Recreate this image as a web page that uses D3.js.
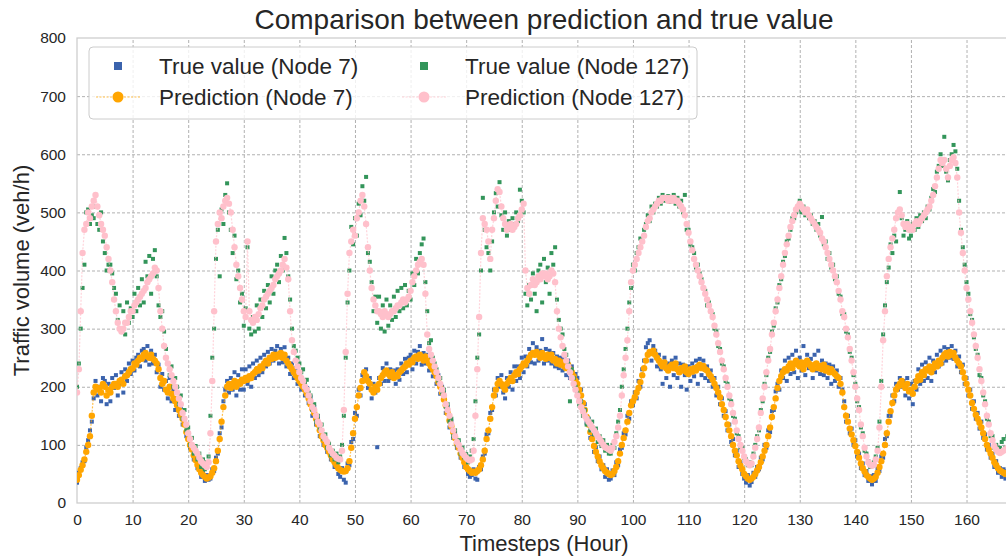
<!DOCTYPE html>
<html>
<head>
<meta charset="utf-8">
<script src="https://cdn.jsdelivr.net/npm/d3@7"></script>
<style>
  body { margin: 0; background: #fff; }
  svg { display: block; }
  text { font-family: "Liberation Sans", Arial, sans-serif; fill: #262626; }
</style>
</head>
<body>
<svg id="chart" width="1006" height="558"></svg>
<script>
// Axis ticks
const xTicks = [0, 10, 20, 30, 40, 50, 60, 70, 80, 90, 100, 110, 120, 130, 140, 150, 160];
const yTicks = [0, 100, 200, 300, 400, 500, 600, 700, 800];

// Readings are taken every 20 minutes (3 per hour) over one week
const samplesPerHour = 3;

// Node 7: measured traffic volume (veh/h)
const trueNode7 = [
  35,52,60,70,72,95,108,125,140,180,210,185,200,175,215,210,170,205,
  175,215,198,220,185,205,225,190,230,210,240,222,245,228,250,255,235,262,
  265,245,270,238,262,240,255,225,238,200,222,195,210,180,215,175,195,160,
  180,150,165,135,145,115,120,95,100,75,80,60,65,45,55,38,48,40,
  42,58,55,78,85,120,130,175,195,210,190,215,195,225,185,220,195,230,
  195,230,205,235,200,240,215,245,220,250,225,255,235,260,240,265,245,262,
  270,240,265,242,268,235,250,222,240,215,232,205,220,195,210,185,198,172,
  182,150,165,135,145,115,125,100,108,88,95,75,82,62,70,50,45,60,
  40,35,68,65,105,110,155,150,195,185,220,215,230,198,215,180,205,190,
  96,215,205,232,210,240,210,230,215,228,205,230,212,240,222,248,225,250,
  255,230,262,240,260,270,238,258,240,255,228,248,218,235,205,220,188,200,
  190,155,165,130,140,112,120,95,102,78,85,62,70,50,45,48,58,42,
  40,62,58,80,85,118,120,155,160,195,185,215,200,220,190,180,215,200,
  225,195,235,210,235,215,250,225,252,235,265,242,275,240,268,245,262,282,
  240,265,245,262,240,258,235,252,232,250,228,248,220,245,215,235,205,222,
  215,180,195,160,170,138,145,112,118,88,95,72,80,58,65,45,58,40,
  42,56,48,70,65,92,95,120,118,150,145,175,168,190,180,210,200,230,
  245,268,275,280,245,270,262,235,255,230,205,250,215,240,200,245,220,250,
  215,240,200,238,220,195,235,210,240,218,245,205,248,220,245,215,235,210,
  228,200,215,185,200,170,180,150,158,125,135,105,110,82,90,62,70,50,
  42,35,48,30,36,52,45,62,58,78,75,100,95,125,122,158,160,192,
  205,195,228,215,245,210,250,222,255,225,262,215,250,228,270,220,255,232,
  248,215,255,228,262,222,245,220,240,215,238,205,235,210,228,200,215,195,
  175,140,150,120,128,100,108,80,85,60,68,48,55,38,46,32,48,38,
  60,55,80,78,110,115,150,150,185,175,205,195,215,200,210,185,215,180,
  205,170,210,195,230,205,238,210,242,215,250,210,245,225,255,235,262,240,
  268,245,265,250,270,248,262,235,252,225,238,205,215,185,195,162,175,145,
  155,128,140,112,118,92,100,78,85,62,72,52,60,45,58,42,55,40
];

// Node 7: model prediction
const predNode7 = [
  40,48,57,65,75,88,100,115,150,190,200,195,198,190,205,200,185,195,
  190,200,205,205,200,210,212,205,218,220,225,230,232,240,238,245,250,248,
  255,258,252,250,255,248,245,240,230,215,205,210,195,190,200,188,180,175,
  168,160,152,145,135,122,110,100,92,82,74,66,58,52,48,45,42,44,
  46,52,60,72,90,110,140,165,185,200,205,198,205,210,200,208,205,212,
  210,215,212,218,215,222,225,230,228,235,232,240,245,240,250,248,255,250,
  255,252,258,250,255,245,240,235,230,225,220,215,210,205,200,195,188,180,
  170,162,155,145,135,125,115,108,100,95,88,82,75,70,65,60,57,55,
  54,55,60,72,95,120,145,165,185,198,210,225,218,210,205,195,190,200,
  195,205,215,220,225,228,222,218,225,215,220,218,225,228,232,235,240,238,
  245,242,250,252,248,255,250,245,252,245,240,235,230,225,218,208,200,190,
  178,168,155,142,132,122,112,102,95,85,78,70,62,58,55,52,54,52,
  55,58,65,75,90,110,125,145,165,185,195,205,210,205,200,195,205,210,
  215,210,220,225,222,230,235,240,238,245,250,255,258,255,260,255,250,258,
  252,248,255,250,255,245,248,240,245,238,242,235,232,238,230,225,218,210,
  205,195,185,172,160,148,135,122,110,98,88,80,72,65,60,55,52,50,
  48,50,55,62,72,85,100,112,125,140,155,168,175,182,190,198,208,220,
  232,245,255,260,258,262,255,250,245,240,235,242,232,228,235,238,232,240,
  230,225,232,228,235,225,222,230,226,232,228,235,238,232,236,230,228,222,
  218,212,205,198,190,182,170,160,148,135,125,115,100,90,82,72,64,58,
  50,46,42,40,42,45,50,56,62,70,80,90,100,115,130,148,165,180,
  198,210,218,225,230,228,235,240,232,240,245,238,235,242,230,238,245,240,
  235,230,238,240,232,236,230,238,228,232,225,230,225,222,218,215,205,190,
  165,150,140,128,118,108,98,88,78,68,60,54,48,45,42,40,42,45,
  52,62,72,85,100,120,140,158,172,185,195,200,205,210,202,198,205,192,
  195,188,200,210,218,212,225,220,230,228,235,225,232,240,235,245,240,250,
  255,258,252,260,255,258,250,245,240,235,225,215,205,195,185,172,162,152,
  145,138,130,120,110,100,92,85,78,70,65,60,56,54,52,50,52,48
];

// Node 127: measured traffic volume (veh/h)
const trueNode127 = [
  200,240,300,370,410,500,505,480,495,490,510,480,470,500,450,430,400,410,
  410,395,370,360,315,340,300,330,290,345,310,335,320,360,330,370,340,385,
  345,415,390,425,360,420,435,390,340,320,330,295,265,240,220,235,200,215,
  200,170,185,145,160,125,130,100,112,85,98,75,85,62,75,58,70,80,
  150,250,300,420,470,390,505,480,530,550,500,470,430,460,385,400,345,360,
  305,335,440,300,290,320,295,340,300,350,320,365,335,375,345,390,360,400,
  410,380,425,400,456,430,390,350,300,270,262,250,240,225,230,208,212,190,
  185,160,170,140,150,128,135,110,118,95,102,82,90,75,85,70,80,100,
  150,250,345,400,475,445,490,460,515,495,545,520,561,430,415,380,330,355,
  310,355,300,340,295,350,305,340,315,355,320,365,330,370,335,375,340,365,
  350,395,375,420,395,430,445,455,380,330,275,280,250,240,230,210,215,190,
  195,165,170,140,145,115,125,100,108,85,95,78,84,70,80,90,110,175,
  250,290,400,525,470,440,430,400,450,500,533,510,552,495,470,500,460,485,
  470,490,480,500,485,539,520,500,360,340,375,350,395,360,330,400,410,345,
  420,380,405,360,430,410,440,350,315,300,290,265,255,240,175,230,215,200,
  190,170,175,150,160,135,145,125,140,118,128,105,115,98,108,90,100,85,
  85,100,95,120,140,160,200,230,265,300,345,370,410,400,430,440,455,450,
  470,480,495,485,510,500,515,510,525,515,530,520,522,528,518,525,530,515,
  525,510,520,500,530,470,470,445,440,430,405,410,395,385,370,365,340,345,
  330,325,300,295,270,265,240,235,210,205,180,175,150,145,120,115,95,95,
  78,75,65,70,65,85,100,115,125,160,175,205,220,250,260,295,305,335,
  345,375,385,415,425,450,455,470,490,490,500,505,520,500,510,495,505,490,
  495,480,485,470,480,460,492,445,450,420,430,405,410,385,390,360,355,325,
  325,295,290,260,250,220,205,175,165,130,120,90,85,72,62,66,70,80,
  95,140,210,290,340,380,405,445,430,460,450,500,535,490,460,470,485,455,
  460,480,470,490,475,495,485,500,490,510,505,525,540,535,570,580,600,580,
  630,570,555,590,600,616,605,575,520,470,440,410,380,360,325,315,285,265,
  255,220,215,185,175,145,140,115,115,95,100,90,95,105,110,95,115,100
];

// Node 127: model prediction
const predNode127 = [
  190,230,330,430,470,480,500,490,510,520,530,510,495,480,470,460,440,420,
  400,380,350,330,310,300,295,300,310,310,320,330,330,340,345,350,355,360,
  365,370,380,385,390,395,405,400,370,330,300,270,250,240,230,220,210,200,
  190,180,170,155,145,135,120,110,100,95,90,85,78,72,68,65,62,70,
  120,210,330,450,480,500,490,510,520,525,515,500,470,440,410,390,370,350,
  330,320,450,330,315,310,320,315,325,335,340,350,355,360,365,370,375,385,
  390,395,400,410,420,405,385,330,280,260,245,235,225,215,210,200,195,185,
  175,165,160,150,140,135,125,115,110,105,95,90,85,82,78,76,75,90,
  160,260,360,430,450,470,460,490,500,520,530,510,480,440,400,370,350,340,
  330,330,325,320,330,325,320,325,330,330,335,340,340,345,350,345,350,355,
  365,380,390,400,410,415,420,410,360,290,265,255,245,235,225,215,205,195,
  185,170,160,150,135,125,115,105,100,92,86,82,78,75,73,75,90,150,
  230,320,430,490,480,470,450,420,470,490,520,540,535,510,490,480,470,475,
  480,470,475,480,490,495,505,515,400,370,360,375,385,375,380,390,385,395,
  390,395,385,390,400,395,380,330,300,285,270,255,245,235,225,215,205,195,
  185,175,165,158,150,145,140,135,130,125,120,115,110,105,100,96,94,92,
  90,95,105,115,130,150,185,220,250,280,330,380,400,410,420,430,440,450,
  460,475,485,490,500,505,510,515,520,520,525,525,525,520,525,520,525,520,
  520,515,510,505,495,480,465,450,435,420,410,400,390,380,370,360,350,340,
  330,320,305,290,275,260,245,230,215,200,185,170,155,140,125,110,100,90,
  80,72,68,65,68,80,95,110,130,155,180,200,225,245,265,290,310,330,
  350,370,390,410,430,445,460,475,485,495,505,510,515,510,505,500,505,495,
  490,485,480,475,470,465,455,450,440,430,420,410,400,390,380,365,350,330,
  320,300,285,265,245,225,200,180,160,135,115,95,80,70,66,64,66,75,
  90,130,200,280,330,390,420,440,455,470,490,500,505,495,480,475,480,470,
  475,470,480,485,480,485,490,495,500,505,510,520,530,545,560,575,590,585,
  590,575,560,580,590,595,585,560,500,465,430,400,370,350,330,310,290,270,
  250,230,210,190,170,150,135,120,108,98,92,88,86,88,90,92,95,98
];

const colors = {
  true7: "#3b63ad",
  pred7: "#ffa500",
  true127: "#33955a",
  pred127: "#ffc0cb"
};

const svg = d3.select("#chart");
const plot = { left: 77, right: 1011, top: 38, bottom: 503 };

const x = d3.scaleLinear().domain([0, 168]).range([plot.left, plot.right]);
const y = d3.scaleLinear().domain([0, 800]).range([plot.bottom, plot.top]);

// Grid lines (dashed)
const gridX = svg.append("g")
  .attr("transform", `translate(0,${plot.bottom})`)
  .call(d3.axisBottom(x).tickValues(xTicks.slice(1)).tickSize(-(plot.bottom - plot.top)).tickFormat(""));
const gridY = svg.append("g")
  .attr("transform", `translate(${plot.left},0)`)
  .call(d3.axisLeft(y).tickValues(yTicks.slice(1, -1)).tickSize(-(plot.right - plot.left)).tickFormat(""));
[gridX, gridY].forEach(g => {
  g.select(".domain").remove();
  g.selectAll("line").attr("stroke", "#a8a8a8").attr("stroke-width", 0.9).attr("stroke-dasharray", "3,2");
});

// Frame
svg.append("rect")
  .attr("x", plot.left).attr("y", plot.top)
  .attr("width", plot.right - plot.left).attr("height", plot.bottom - plot.top)
  .attr("fill", "none").attr("stroke", "#cccccc").attr("stroke-width", 1.25);

// Tick labels
const axX = svg.append("g")
  .attr("transform", `translate(0,${plot.bottom})`)
  .call(d3.axisBottom(x).tickValues(xTicks).tickSize(0).tickPadding(11).tickFormat(d3.format("d")));
const axY = svg.append("g")
  .attr("transform", `translate(${plot.left},0)`)
  .call(d3.axisLeft(y).tickValues(yTicks).tickSize(0).tickPadding(11).tickFormat(d3.format("d")));
[axX, axY].forEach(g => {
  g.select(".domain").remove();
  g.selectAll("text").attr("font-size", 15.5).attr("fill", "#262626")
    .attr("font-family", "'Liberation Sans', Arial, sans-serif");
});

// Clip data to the axes area
svg.append("clipPath").attr("id", "plot-clip")
  .append("rect")
  .attr("x", plot.left).attr("y", plot.top)
  .attr("width", plot.right - plot.left).attr("height", plot.bottom - plot.top);

const data = svg.append("g").attr("clip-path", "url(#plot-clip)");
const toPoints = arr => arr.map((v, i) => ({ t: i / samplesPerHour, v }));

function drawTrue(arr, color) {
  const s = 4;
  data.append("g").selectAll("rect")
    .data(toPoints(arr)).join("rect")
    .attr("x", d => x(d.t) - s / 2).attr("y", d => y(d.v) - s / 2)
    .attr("width", s).attr("height", s)
    .attr("fill", color);
}

function drawPred(arr, color) {
  const pts = toPoints(arr);
  data.append("path")
    .datum(pts)
    .attr("d", d3.line().x(d => x(d.t)).y(d => y(d.v)))
    .attr("fill", "none").attr("stroke", color)
    .attr("stroke-width", 1.2).attr("stroke-opacity", 0.7)
    .attr("stroke-dasharray", "2,1.5");
  data.append("g").selectAll("circle")
    .data(pts).join("circle")
    .attr("cx", d => x(d.t)).attr("cy", d => y(d.v))
    .attr("r", 3.2).attr("fill", color);
}

drawTrue(trueNode7, colors.true7);
drawPred(predNode7, colors.pred7);
drawTrue(trueNode127, colors.true127);
drawPred(predNode127, colors.pred127);

// Title and axis labels
svg.append("text")
  .attr("x", (plot.left + plot.right) / 2).attr("y", 29)
  .attr("text-anchor", "middle").attr("font-size", 28)
  .text("Comparison between prediction and true value");
svg.append("text")
  .attr("x", (plot.left + plot.right) / 2).attr("y", 551)
  .attr("text-anchor", "middle").attr("font-size", 22)
  .text("Timesteps (Hour)");
svg.append("text")
  .attr("transform", `translate(29,${(plot.top + plot.bottom) / 2}) rotate(-90)`)
  .attr("text-anchor", "middle").attr("font-size", 22)
  .text("Traffic volume (veh/h)");

// Legend
const legend = svg.append("g");
legend.append("rect")
  .attr("x", 89).attr("y", 47).attr("width", 608).attr("height", 72)
  .attr("rx", 4).attr("fill", "#fff").attr("fill-opacity", 0.8)
  .attr("stroke", "#cccccc").attr("stroke-width", 1);

const entries = [
  { label: "True value (Node 7)", color: colors.true7, kind: "square", cx: 118, cy: 66 },
  { label: "Prediction (Node 7)", color: colors.pred7, kind: "line", cx: 118, cy: 97 },
  { label: "True value (Node 127)", color: colors.true127, kind: "square", cx: 424, cy: 66 },
  { label: "Prediction (Node 127)", color: colors.pred127, kind: "line", cx: 424, cy: 97 }
];
entries.forEach(e => {
  if (e.kind === "square") {
    legend.append("rect").attr("x", e.cx - 4).attr("y", e.cy - 4)
      .attr("width", 8).attr("height", 8).attr("fill", e.color);
  } else {
    legend.append("line")
      .attr("x1", e.cx - 22).attr("x2", e.cx + 22).attr("y1", e.cy).attr("y2", e.cy)
      .attr("stroke", e.color).attr("stroke-width", 1.2).attr("stroke-opacity", 0.7)
      .attr("stroke-dasharray", "2,1.5");
    legend.append("circle").attr("cx", e.cx).attr("cy", e.cy).attr("r", 5.5).attr("fill", e.color);
  }
  legend.append("text")
    .attr("x", e.cx + 41).attr("y", e.cy).attr("dy", "0.36em")
    .attr("font-size", 22.5)
    .text(e.label);
});
</script>
</body>
</html>
